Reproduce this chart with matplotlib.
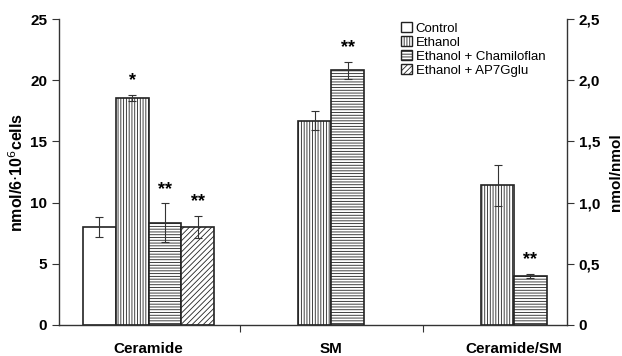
import matplotlib
matplotlib.use("Agg")
import matplotlib.pyplot as plt
import numpy as np

plt.rcParams['font.family'] = ['Liberation Sans', 'DejaVu Sans']
plt.rcParams['hatch.linewidth'] = 0.6
plt.rcParams['hatch.color'] = '#444444'

categories = ["Ceramide", "SM", "Ceramide/SM"]
series = ["Control", "Ethanol", "Ethanol + Chamiloflan", "Ethanol + AP7Gglu"]
# Left axis values (Ceramide, SM) ; right axis values (Ceramide/SM)
ceramide_vals = [8.0, 18.55, 8.35, 8.0]
ceramide_err = [0.85, 0.25, 1.6, 0.9]
sm_vals = [0, 16.7, 20.8, 0]
sm_err = [0, 0.8, 0.7, 0]
ratio_vals = [0, 1.14, 0.40, 0]
ratio_err = [0, 0.17, 0.02, 0]
ceramide_stars = ["", "*", "**", "**"]
sm_stars = ["", "", "**", ""]
ratio_stars = ["", "", "**", ""]
left_ticks = [0, 5, 10, 15, 20, 25]
right_ticks = [0, 0.5, 1.0, 1.5, 2.0, 2.5]
right_ticklabels = ["0", "0,5", "1,0", "1,5", "2,0", "2,5"]

hatches = ["", "||||||", "------", "//////"]

fig = plt.figure(figsize=(6.22, 3.56), dpi=100)
ax = fig.add_axes([0.0949, 0.0871, 0.8167, 0.8595])
ax2 = ax.twinx()

w = 0.18
offsets = (np.arange(4) - 1.5) * w

def draw(axis, x0, vals, errs, stars, scale):
    for i, (v, e, s) in enumerate(zip(vals, errs, stars)):
        if v == 0:
            continue
        axis.bar(x0 + offsets[i], v, width=w, color="white", edgecolor="#222222",
                 linewidth=1.2, hatch=hatches[i], zorder=2)
        axis.errorbar(x0 + offsets[i], v, yerr=e, fmt="none", ecolor="#333333",
                      elinewidth=0.8, capsize=3, capthick=0.8, zorder=3)
        if s:
            axis.text(x0 + offsets[i], v + e + 0.45 * scale, s, ha="center", va="bottom",
                      fontsize=13, fontweight="bold", zorder=4)

draw(ax, 0, ceramide_vals, ceramide_err, ceramide_stars, 1.0)
draw(ax, 1, sm_vals, sm_err, sm_stars, 1.0)
draw(ax2, 2, ratio_vals, ratio_err, ratio_stars, 0.1)

ax.set_xlim(-0.49, 2.29)
ax.set_ylim(0, 25)
ax2.set_ylim(0, 2.5)
ax.set_yticks(left_ticks)
ax.set_yticklabels([str(t) for t in left_ticks], fontweight="bold", fontsize=11)
ax2.set_yticks(right_ticks)
ax2.set_yticklabels(right_ticklabels, fontweight="bold", fontsize=11)

ax.set_xticks([0.5, 1.5])
ax.set_xticklabels(["", ""])
ax.set_xticks([0, 1, 2], minor=True)
ax.set_xticklabels(categories, minor=True, fontweight="bold", fontsize=11)
ax.tick_params(axis="x", which="minor", length=0, pad=12)
ax.tick_params(axis="x", which="major", direction="out", length=5, color="#333333")
ax.tick_params(axis="y", direction="out", length=5, color="#333333")
ax2.tick_params(axis="y", direction="out", length=5, color="#333333")

for a in (ax, ax2):
    a.spines["top"].set_visible(False)
    for sp in ("left", "right", "bottom"):
        a.spines[sp].set_color("#333333")
        a.spines[sp].set_linewidth(1.0)
ax.spines["right"].set_visible(False)
ax2.spines["left"].set_visible(False)
ax2.spines["bottom"].set_visible(False)

ax.set_ylabel("nmol/6$\\cdot$10$^6$cells", fontweight="bold", fontsize=11.5, labelpad=3)
ax2.set_ylabel("nmol/nmol", fontweight="bold", fontsize=11, labelpad=6)

from matplotlib.patches import Patch
handles = [Patch(facecolor="white", edgecolor="#222222", hatch=h, linewidth=1.0) for h in hatches]
leg = ax.legend(handles, series, loc="upper left", bbox_to_anchor=(0.655, 1.02),
                frameon=False, fontsize=9.5, handlelength=0.8, handleheight=0.8,
                handletextpad=0.3, labelspacing=0.1, borderpad=0.2)

fig.savefig("out.png", dpi=100)
